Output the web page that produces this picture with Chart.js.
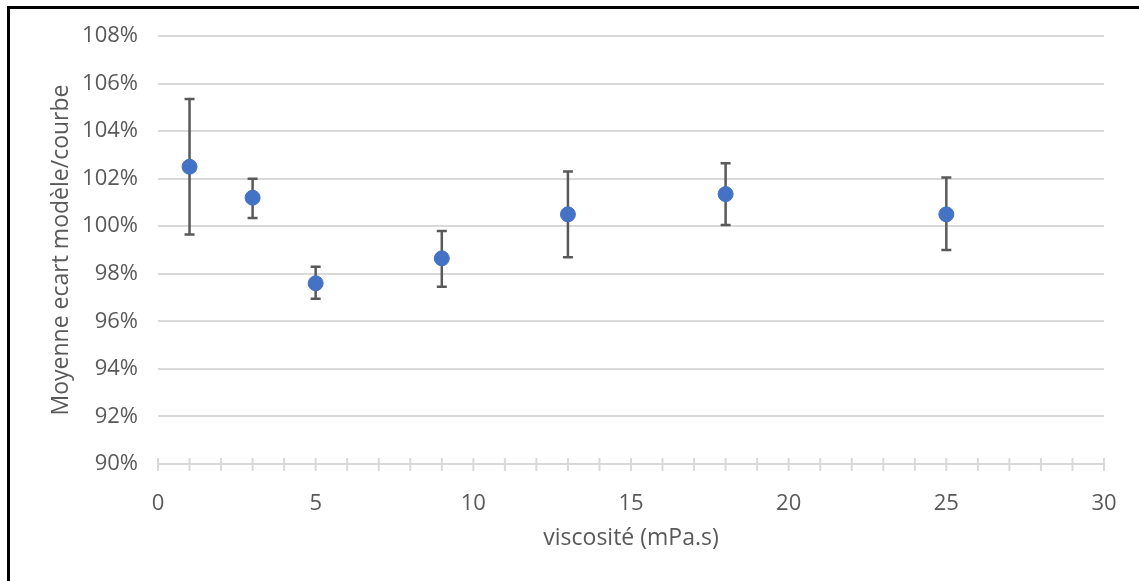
<!DOCTYPE html>
<html>
<head>
<meta charset="utf-8">
<script src="https://cdn.jsdelivr.net/npm/chart.js@4"></script>
<style>
  body { margin: 0; background: #fff; }
  #wrap { position: relative; width: 1139px; height: 581px; }
  #frame { position: absolute; left: 7px; top: 6px; right: -10px; bottom: -10px; border-left: 3px solid #000; border-top: 3px solid #000; pointer-events: none; }
</style>
</head>
<body>
<div id="wrap">
  <canvas id="chart" width="1139" height="581"></canvas>
  <div id="frame"></div>
</div>
<script>
const viscosity = [1, 3, 5, 9, 13, 18, 25];
const meanRatio = [102.5, 101.2, 97.6, 98.65, 100.5, 101.35, 100.5];
const errHigh = [105.35, 102.0, 98.3, 99.8, 102.3, 102.65, 102.05];
const errLow = [99.65, 100.35, 96.95, 97.45, 98.7, 100.05, 99.0];
const xTitle = 'viscosité (mPa.s)';
const yTitle = 'Moyenne ecart modèle/courbe';

const FONT = '"Open Sans", "Noto Sans", sans-serif';
const TEXT = '#595959';
const GRID = '#d9d9d9';

const errorBars = {
    id: 'errorBars',
    beforeDatasetsDraw(chart) {
        const ctx = chart.ctx;
        const x = chart.scales.x;
        const y = chart.scales.y;
        ctx.save();
        ctx.strokeStyle = '#595959';
        ctx.lineWidth = 2.5;
        viscosity.forEach((v, i) => {
            const px = x.getPixelForValue(v);
            const top = y.getPixelForValue(errHigh[i]);
            const bot = y.getPixelForValue(errLow[i]);
            ctx.beginPath();
            ctx.moveTo(px, top);
            ctx.lineTo(px, bot);
            ctx.moveTo(px - 5, top);
            ctx.lineTo(px + 5, top);
            ctx.moveTo(px - 5, bot);
            ctx.lineTo(px + 5, bot);
            ctx.stroke();
        });
        ctx.restore();
    }
};

const crossTicks = {
    id: 'crossTicks',
    afterDraw(chart) {
        const ctx = chart.ctx;
        const x = chart.scales.x;
        const base = chart.chartArea.bottom;
        ctx.save();
        ctx.strokeStyle = GRID;
        ctx.lineWidth = 2;
        x.ticks.forEach(t => {
            const px = x.getPixelForValue(t.value);
            ctx.beginPath();
            ctx.moveTo(px, base - 6);
            ctx.lineTo(px, base + 7);
            ctx.stroke();
        });
        ctx.restore();
    }
};

new Chart(document.getElementById('chart'), {
    type: 'scatter',
    data: {
        datasets: [{
            data: viscosity.map((v, i) => ({x: v, y: meanRatio[i]})),
            backgroundColor: '#4472C4',
            borderColor: '#4472C4',
            pointRadius: 7.5,
            pointHoverRadius: 7.5
        }]
    },
    options: {
        responsive: false,
        animation: false,
        layout: {padding: {top: 36, right: 35, left: 0, bottom: 0}},
        plugins: {legend: {display: false}, tooltip: {enabled: false}},
        scales: {
            x: {
                type: 'linear',
                min: 0,
                max: 30,
                ticks: {
                    stepSize: 1,
                    autoSkip: false,
                    maxRotation: 0,
                    color: TEXT,
                    font: {family: FONT, size: 22},
                    padding: 19,
                    callback: v => v % 5 === 0 ? v : ''
                },
                grid: {display: false},
                border: {display: false},
                title: {
                    display: true,
                    text: xTitle,
                    color: TEXT,
                    font: {family: FONT, size: 23},
                    padding: {top: 6, bottom: 29}
                },
                afterFit: s => { s.height = 117; }
            },
            y: {
                min: 90,
                max: 108,
                ticks: {
                    stepSize: 2,
                    color: TEXT,
                    font: {family: FONT, size: 22},
                    padding: 20,
                    callback: v => v + '%'
                },
                grid: {color: GRID, lineWidth: 2, drawTicks: false},
                border: {display: false},
                title: {
                    display: true,
                    text: yTitle,
                    color: TEXT,
                    font: {family: FONT, size: 23},
                    padding: {top: 48, bottom: 0}
                },
                afterFit: s => { s.width = 158; }
            }
        }
    },
    plugins: [errorBars, crossTicks]
});
</script>
</body>
</html>
